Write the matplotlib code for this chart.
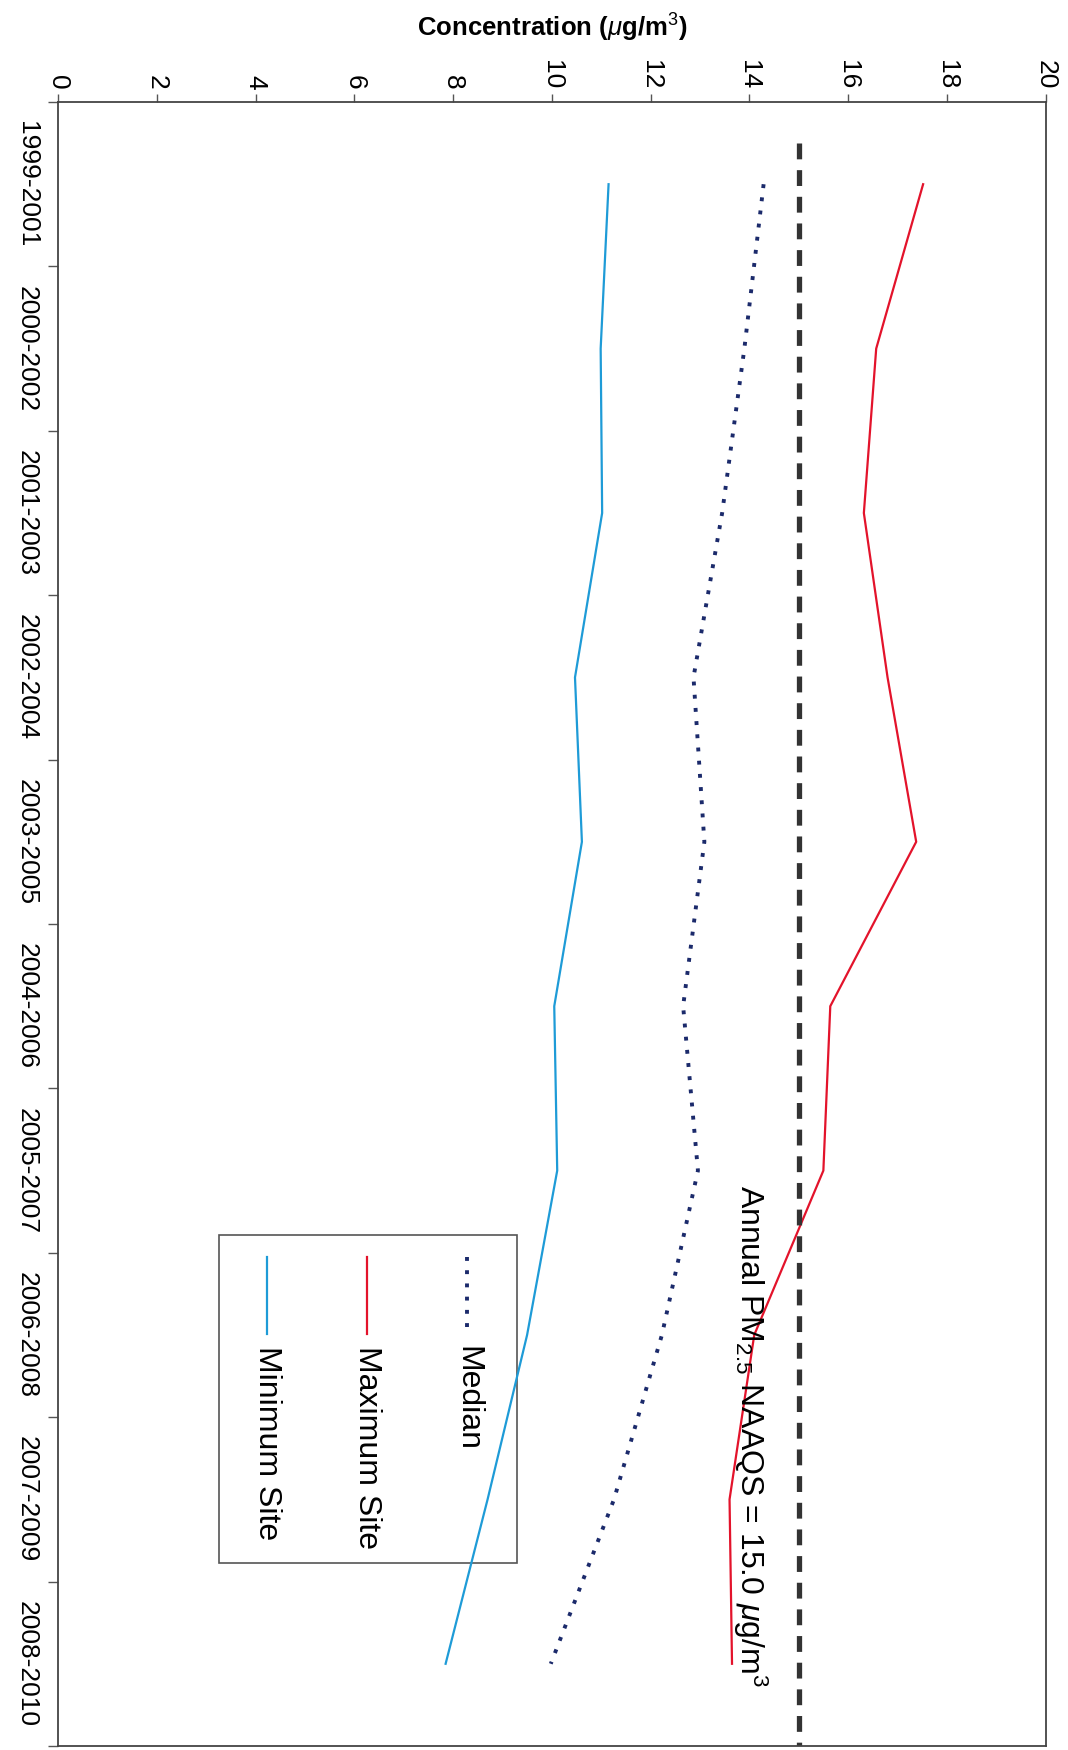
import numpy as np
import matplotlib.pyplot as plt
from matplotlib.patches import Rectangle

plt.rcParams['font.family'] = ['Liberation Sans', 'DejaVu Sans']
plt.rcParams['mathtext.fontset'] = 'custom'
plt.rcParams['mathtext.rm'] = 'Liberation Sans'
plt.rcParams['mathtext.it'] = 'Liberation Sans:italic'
plt.rcParams['mathtext.bf'] = 'Liberation Sans:bold'

# 3-year periods and PM2.5 design values (ug/m3)
periods = ['1999-2001', '2000-2002', '2001-2003', '2002-2004', '2003-2005',
           '2004-2006', '2005-2007', '2006-2008', '2007-2009', '2008-2010']
median = [14.29, 13.9, 13.45, 12.87, 13.09, 12.66, 12.96, 12.23, 11.26, 9.98]
maximum = [17.52, 16.57, 16.32, 16.8, 17.38, 15.64, 15.5, 14.1, 13.6, 13.65]
minimum = [11.15, 10.99, 11.02, 10.47, 10.61, 10.05, 10.11, 9.5, 8.7, 7.85]
naaqs = 15.0

pos = np.arange(len(periods))

fig = plt.figure(figsize=(10.68, 17.5), dpi=100)
ax = fig.add_axes([0.0543, 0.0023, 0.9247, 0.9394])

med_col = '#1b2a6b'
max_col = '#e3132b'
min_col = '#1e9bd7'

ax.plot(median, pos, color=med_col, lw=2.8, linestyle=(0, (1, 2.4)))
ax.plot(maximum, pos, color=max_col, lw=1.6)
ax.plot(minimum, pos, color=min_col, lw=1.6)
ax.plot([naaqs, naaqs], [-0.25, 9.5], color='#333333', lw=3.8,
        linestyle=(0, (3.0, 2.05)))

ax.text(14.02, 6.09, r'Annual PM$_{2.5}$ NAAQS = 15.0 $\mu$g/m$^3$',
        rotation=-90, ha='center', va='top', fontsize=23)

ax.set_xlim(0, 20)
ax.set_ylim(9.5, -0.5)

# concentration axis on top
ax.xaxis.tick_top()
ax.set_xticks(range(0, 21, 2))
ax.set_xticklabels([str(v) for v in range(0, 21, 2)], rotation=-90, fontsize=19)
ax.tick_params(axis='x', length=6, width=1, pad=3, color='#555555')
ax.xaxis.set_label_position('top')
ax.set_xlabel(r'Concentration ($\mu$g/m$^3$)', fontsize=18.5, fontweight='bold',
              labelpad=17)

# period axis on the left
ax.set_yticks(np.arange(-0.5, 10, 1))
ax.set_yticklabels([])
ax.set_yticks(pos, minor=True)
ax.set_yticklabels(periods, minor=True, rotation=-90, va='center', fontsize=19)
ax.tick_params(axis='y', which='major', length=7, width=1, color='#555555')
ax.tick_params(axis='y', which='minor', length=0, pad=14)

for s in ax.spines.values():
    s.set_color('#444444')
    s.set_linewidth(1.3)

# legend drawn by hand so the text can run vertically
ax.add_patch(Rectangle((0.163, 0.1116), 0.302, 0.1994, transform=ax.transAxes,
                       fill=False, ec='#555555', lw=1.2))
entries = [('Median', med_col, (0, (1, 2.4)), 2.8, 0.4144),
           ('Maximum Site', max_col, '-', 1.6, 0.313),
           ('Minimum Site', min_col, '-', 1.6, 0.2117)]
for name, col, ls, lw, xpos in entries:
    ax.plot([xpos, xpos], [0.2977, 0.2504], transform=ax.transAxes,
            color=col, lw=lw, linestyle=ls)
    ax.text(xpos, 0.2436, name, transform=ax.transAxes, rotation=-90,
            ha='center', va='top', fontsize=23)

fig.savefig('out.png', dpi=100)
